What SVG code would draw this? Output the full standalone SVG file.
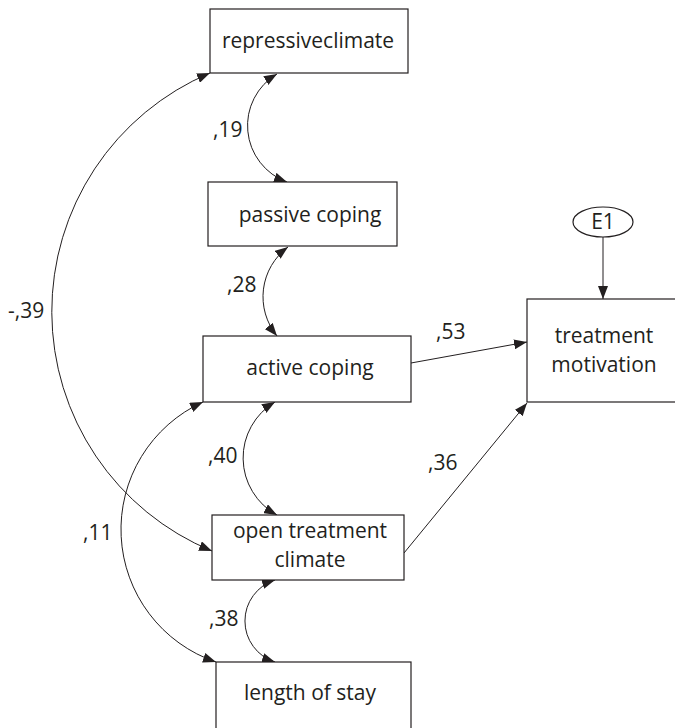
<svg xmlns="http://www.w3.org/2000/svg" width="675" height="728" viewBox="0 0 675 728">
<style>
.box{fill:#fff;stroke:#231f20;stroke-width:1.2}
.t{font-family:"Open Sans","Liberation Sans",sans-serif;font-size:21px;fill:#231f20}
.c{text-anchor:middle}
.e{fill:none;stroke:#231f20;stroke-width:1}
</style>
<defs>
<marker id="ah" viewBox="0 0 13 10" refX="13" refY="5" markerWidth="13" markerHeight="10" markerUnits="userSpaceOnUse" orient="auto-start-reverse">
<path d="M0,0 L13,5 L0,10 z" fill="#231f20"/>
</marker>
</defs>
<rect width="675" height="728" fill="#fff"/>
<g id="connectors">
<path class="e" d="M277 74 A60 60 0 0 0 287 182" marker-start="url(#ah)" marker-end="url(#ah)"/>
<path class="e" d="M288 247 A62 62 0 0 0 277 336" marker-start="url(#ah)" marker-end="url(#ah)"/>
<path class="e" d="M275 402 A65 65 0 0 0 277 515" marker-start="url(#ah)" marker-end="url(#ah)"/>
<path class="e" d="M275 580 A43 43 0 0 0 275 662" marker-start="url(#ah)" marker-end="url(#ah)"/>
<path class="e" d="M210 73 A259 259 0 0 0 212 551" marker-start="url(#ah)" marker-end="url(#ah)"/>
<path class="e" d="M203 402 A140 140 0 0 0 216 662" marker-start="url(#ah)" marker-end="url(#ah)"/>
<path class="e" d="M411 363 L527 342" marker-end="url(#ah)"/>
<path class="e" d="M404 553 L527 403" marker-end="url(#ah)"/>
<path class="e" d="M603 237 L603 299" marker-end="url(#ah)"/>
<text class="t" x="213" y="137">,19</text>
<text class="t" x="227" y="292">,28</text>
<text class="t" x="208" y="463">,40</text>
<text class="t" x="209" y="626">,38</text>
<text class="t" x="8" y="318">-,39</text>
<text class="t" x="83" y="540">,11</text>
<text class="t" x="436" y="339">,53</text>
<text class="t" x="428" y="470">,36</text>
</g>
<g id="repressiveclimate">
<rect class="box" x="210" y="9" width="198" height="64"/>
<text class="t c" x="308" y="48">repressiveclimate</text>
</g>
<g id="passive-coping">
<rect class="box" x="208" y="182" width="189" height="64"/>
<text class="t c" x="310" y="222">passive coping</text>
</g>
<g id="active-coping">
<rect class="box" x="203" y="336" width="208" height="66"/>
<text class="t c" x="310" y="375">active coping</text>
</g>
<g id="open-treatment-climate">
<rect class="box" x="212" y="515" width="192" height="65"/>
<text class="t c" x="310" y="538">open treatment</text>
<text class="t c" x="310" y="567">climate</text>
</g>
<g id="length-of-stay">
<rect class="box" x="216" y="662" width="195" height="80"/>
<text class="t c" x="310" y="700">length of stay</text>
</g>
<g id="treatment-motivation">
<rect class="box" x="527" y="299" width="170" height="103"/>
<text class="t c" x="604" y="343">treatment</text>
<text class="t c" x="604" y="372">motivation</text>
</g>
<g id="E1">
<ellipse class="box" cx="603" cy="222" rx="30" ry="15"/>
<text class="t c" x="603" y="229">E1</text>
</g>
</svg>
